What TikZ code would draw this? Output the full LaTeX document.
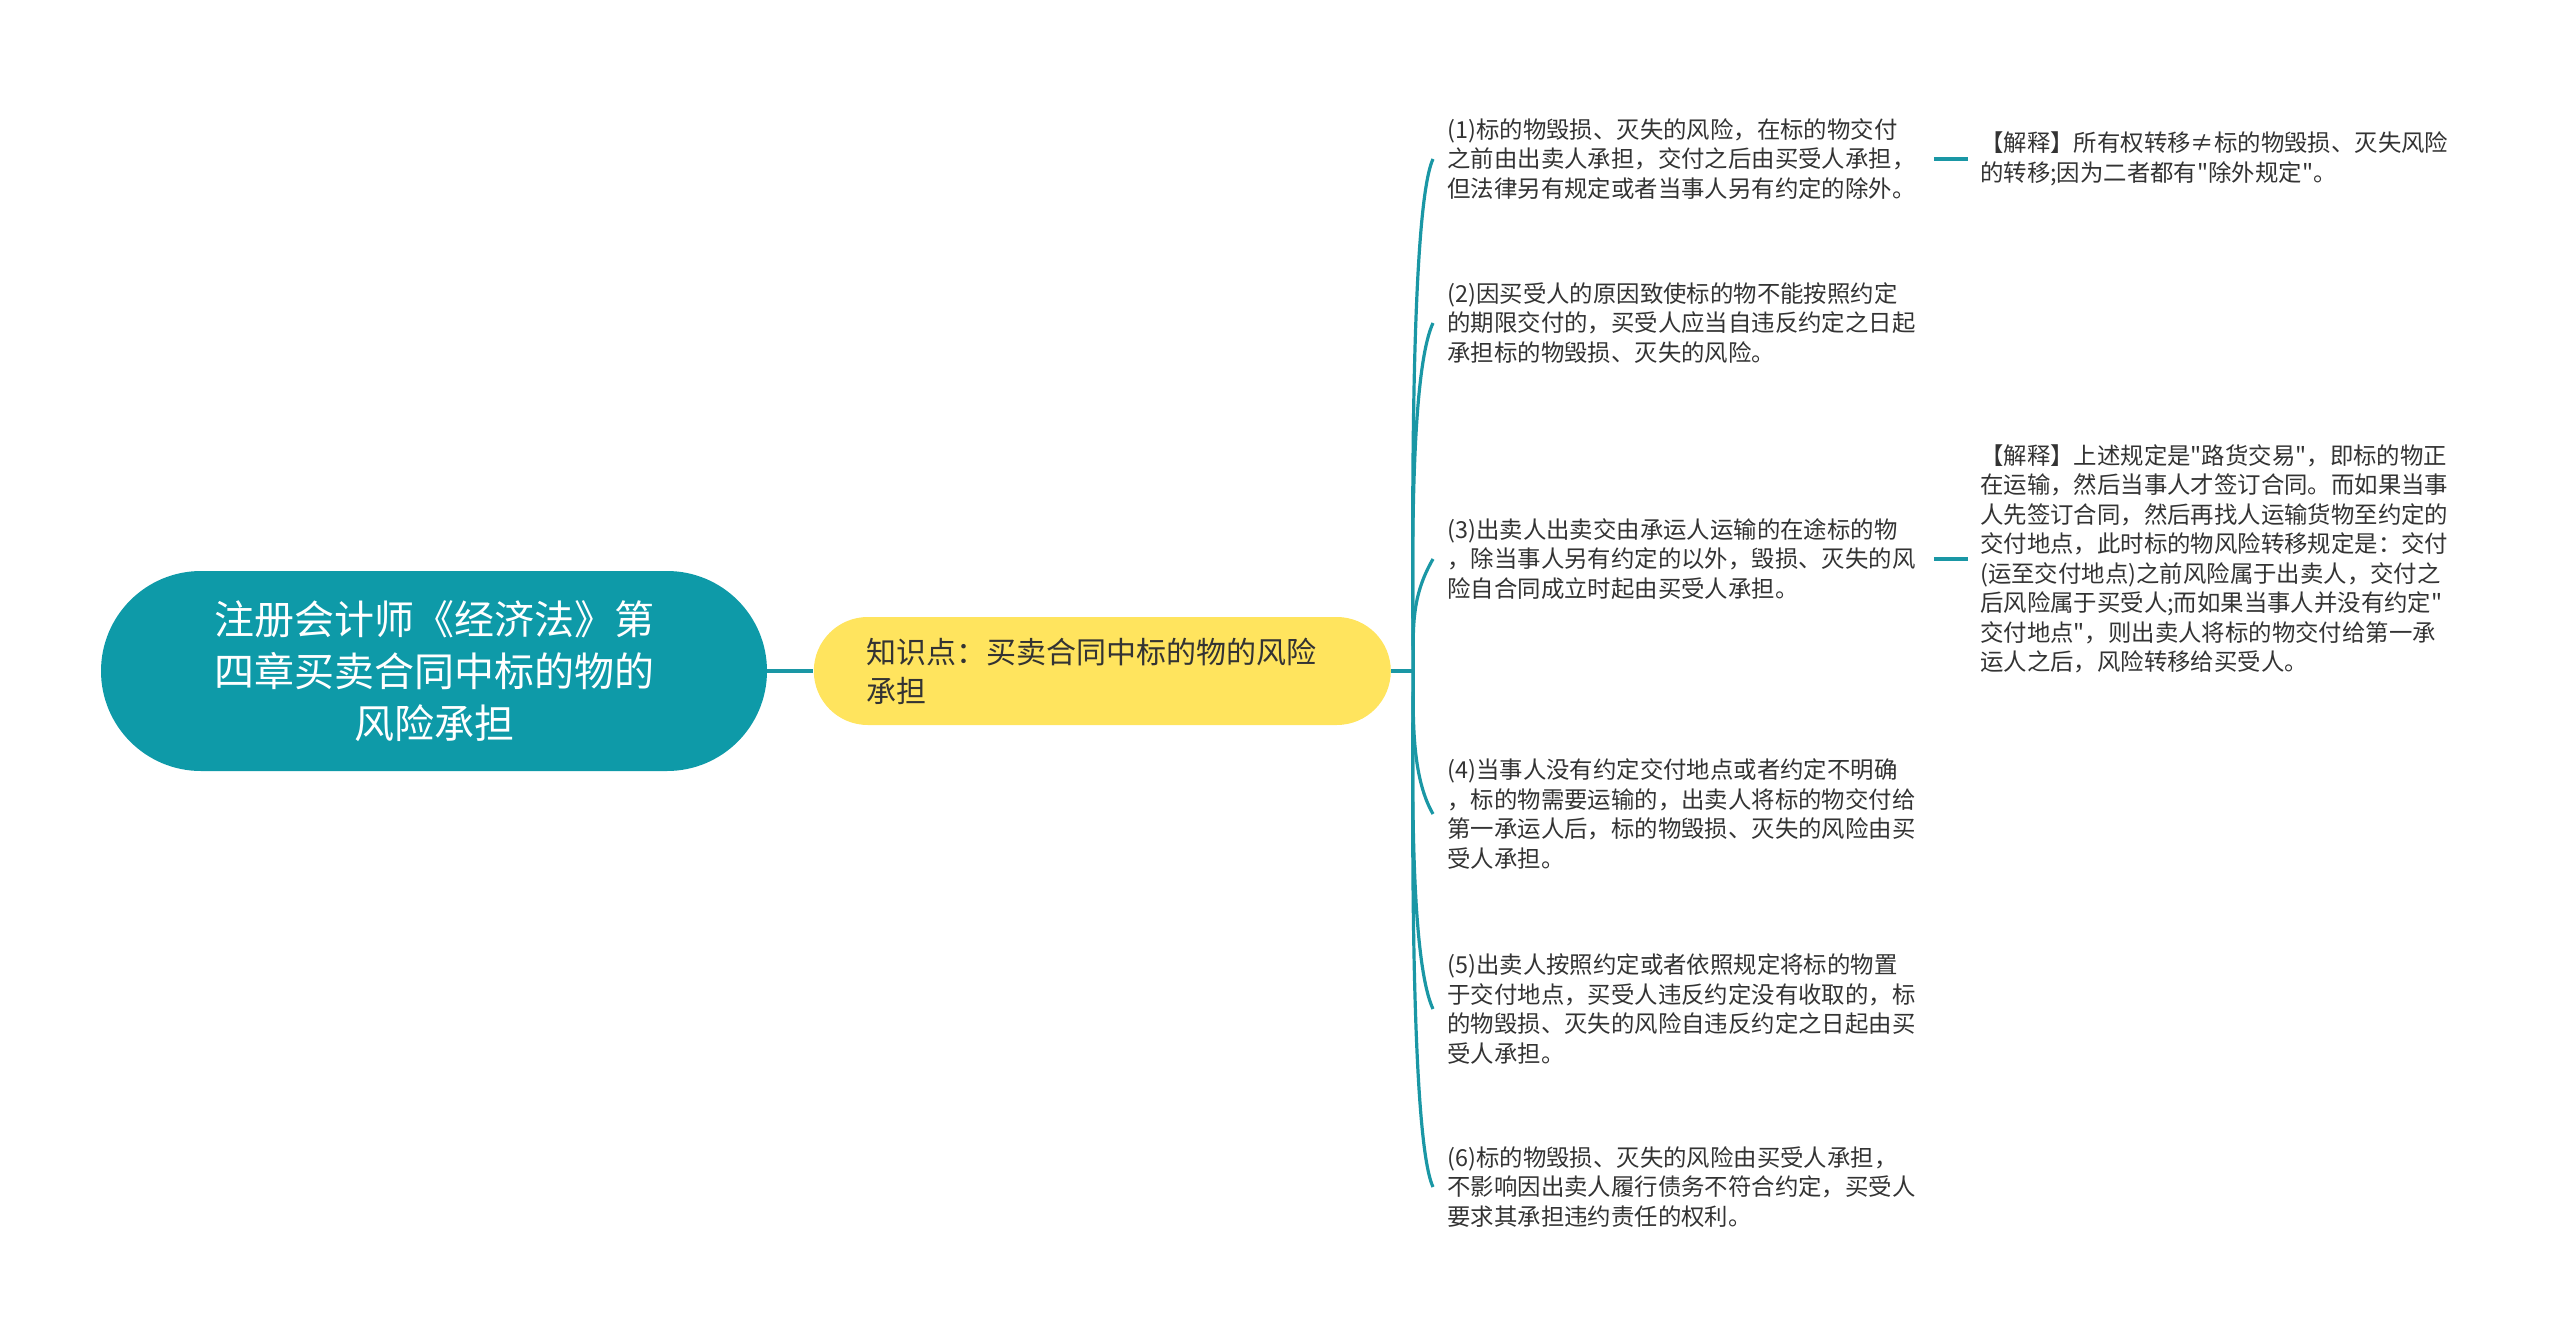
\documentclass[tikz,border=0pt]{standalone}
\usepackage{fontspec}
\setmainfont{Noto Sans CJK SC}[Ligatures=TeXOff]
\usepackage{tikz}
\usetikzlibrary{positioning,shapes}
\definecolor{rootteal}{HTML}{0E9AA8}
\definecolor{linkteal}{HTML}{1A97A5}
\definecolor{topicyellow}{HTML}{FFE45E}
\definecolor{leaftext}{HTML}{333333}

\begin{document}
\begin{tikzpicture}[x=0.5pt,y=-0.5pt,node distance=17pt]
      \tikzstyle{root}=[rectangle,rounded corners=50pt,fill=rootteal,text=white,minimum width=333pt,minimum height=100pt,align=center,font=\fontsize{20pt}{26pt}\selectfont]
      \tikzstyle{topic}=[rectangle,rounded corners=27pt,fill=topicyellow,text=leaftext,text width=235.5pt,inner xsep=26.5pt,minimum height=54pt,align=left,font=\fontsize{15pt}{19.5pt}\selectfont]
      \tikzstyle{leaf}=[anchor=west,text=leaftext,text width=236pt,inner xsep=7pt,inner ysep=2pt,align=left,font=\fontsize{11.7pt}{14.75pt}\selectfont]
      \tikzstyle{note}=[leaf,inner xsep=6pt]
      \tikzstyle{link}=[draw=linkteal,line width=1.6pt]
      \useasboundingbox (0,0) rectangle (2560,1343);

      \node[root] (root) at (434,671) {注册会计师《经济法》第\\四章买卖合同中标的物的\\风险承担};
      \node[topic] (topic) [right=23pt of root] {知识点：买卖合同中标的物的风险\\承担};
      \coordinate[right=11pt of topic] (hub);

      \node[leaf] (c1) at (1433,159) {(1)标的物毁损、灭失的风险，在标的物交付\\之前由出卖人承担，交付之后由买受人承担，\\但法律另有规定或者当事人另有约定的除外。};
      \node[leaf] (c2) at (1433,323) {(2)因买受人的原因致使标的物不能按照约定\\的期限交付的，买受人应当自违反约定之日起\\承担标的物毁损、灭失的风险。};
      \node[leaf] (c3) at (1433,559) {(3)出卖人出卖交由承运人运输的在途标的物\\，除当事人另有约定的以外，毁损、灭失的风\\险自合同成立时起由买受人承担。};
      \node[leaf] (c4) at (1433,814) {(4)当事人没有约定交付地点或者约定不明确\\，标的物需要运输的，出卖人将标的物交付给\\第一承运人后，标的物毁损、灭失的风险由买\\受人承担。};
      \node[leaf] (c5) at (1433,1009) {(5)出卖人按照约定或者依照规定将标的物置\\于交付地点，买受人违反约定没有收取的，标\\的物毁损、灭失的风险自违反约定之日起由买\\受人承担。};
      \node[leaf] (c6) at (1433,1187) {(6)标的物毁损、灭失的风险由买受人承担，\\不影响因出卖人履行债务不符合约定，买受人\\要求其承担违约责任的权利。};

      \node[note] (n1) [right=of c1] {【解释】所有权转移≠标的物毁损、灭失风险\\的转移;因为二者都有"除外规定"。};
      \node[note] (n3) [right=of c3] {【解释】上述规定是"路货交易"，即标的物正\\在运输，然后当事人才签订合同。而如果当事\\人先签订合同，然后再找人运输货物至约定的\\交付地点，此时标的物风险转移规定是：交付\\(运至交付地点)之前风险属于出卖人，交付之\\后风险属于买受人;而如果当事人并没有约定"\\交付地点"，则出卖人将标的物交付给第一承\\运人之后，风险转移给买受人。};

      \draw[link,line width=2pt] (root) -- (topic);
      \draw[link,line width=2pt] (topic) -- (hub);
      \draw[link] (hub) to[out=90,in=-115,distance=30pt] (c1.west);
      \draw[link] (hub) to[out=90,in=-115,distance=30pt] (c2.west);
      \draw[link] (hub) to[out=90,in=-120,distance=22pt] (c3.west);
      \draw[link] (hub) to[out=-90,in=120,distance=22pt] (c4.west);
      \draw[link] (hub) to[out=-90,in=115,distance=30pt] (c5.west);
      \draw[link] (hub) to[out=-90,in=115,distance=30pt] (c6.west);
      \draw[link] (c1) -- (n1);
      \draw[link] (c3) -- (n3);
    \end{tikzpicture}
\end{document}
